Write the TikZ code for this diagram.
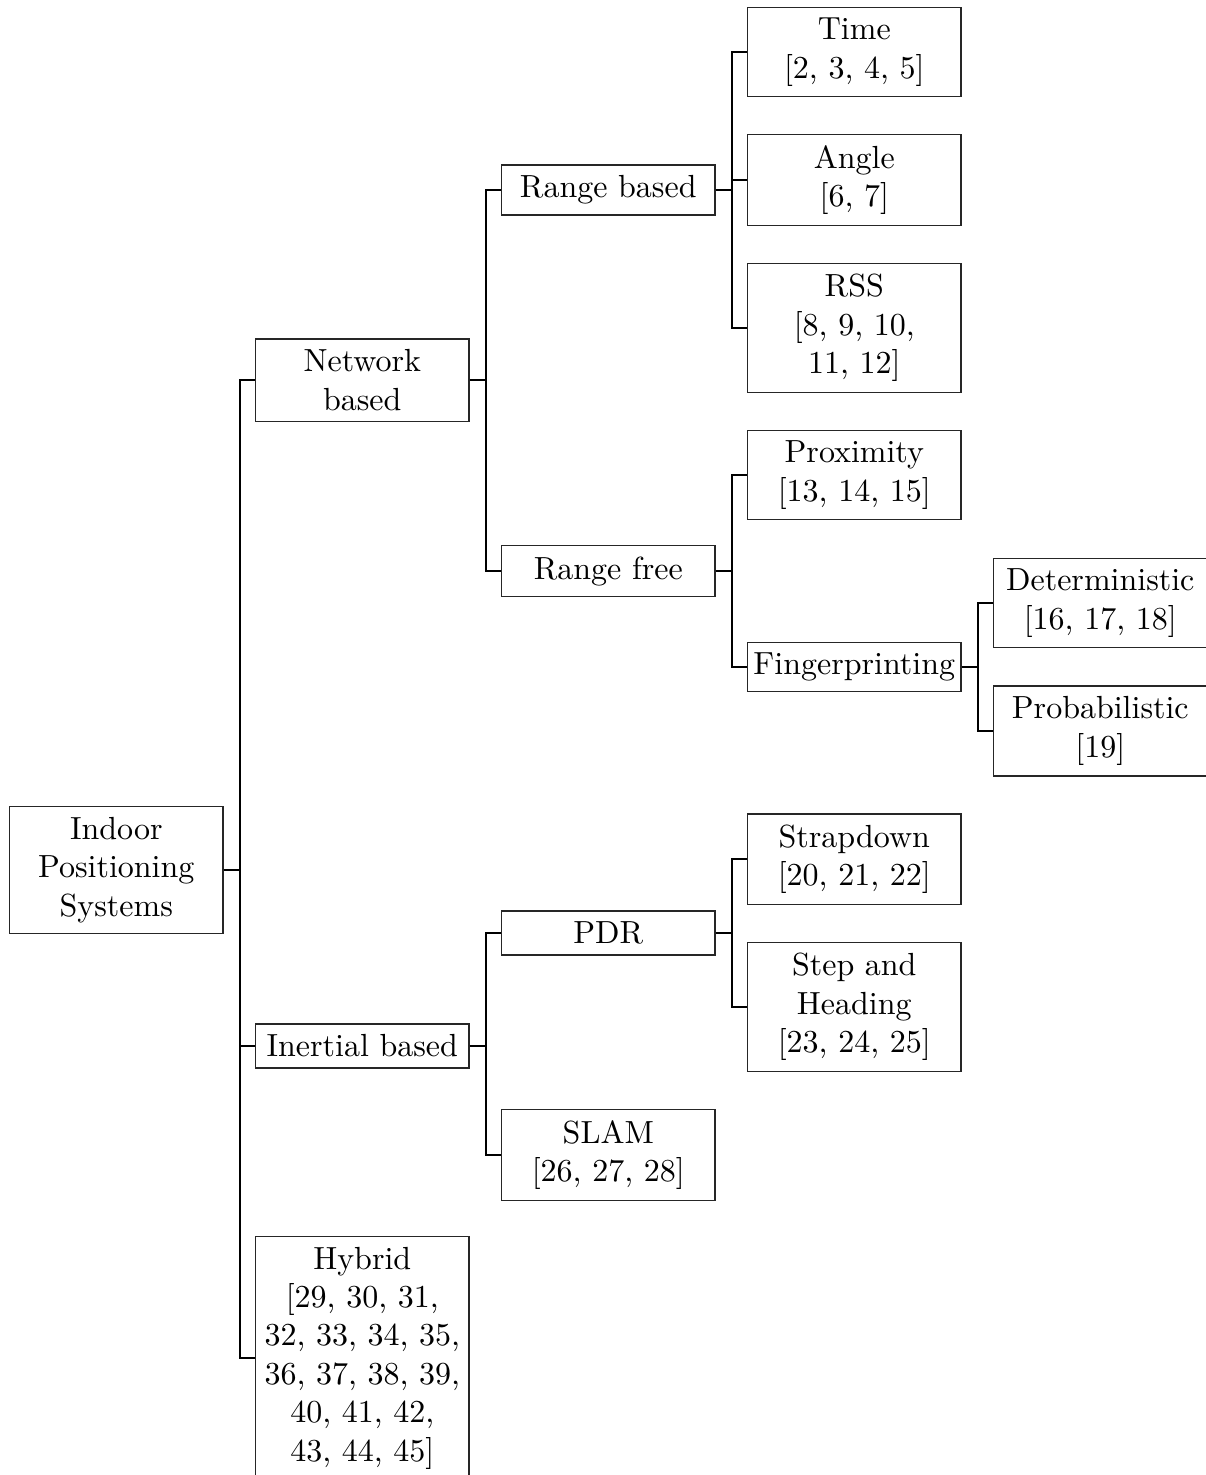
\documentclass[tikz,border=0pt]{standalone}
\begin{document}
\begin{tikzpicture}[
  x=0.3125pt, y=-0.3125pt,
  box/.style={draw=black!85, line width=0.4pt, text width=63pt, align=center,
              anchor=west, inner xsep=1.83pt, inner ysep=0.3333em},
  conn/.style={draw=black, line width=0.8pt}
]
\useasboundingbox (0,0) rectangle (1205,1475);

% level 0
\node[box] (ips) at (9,870) {Indoor\\Positioning\\Systems};

% level 1
\node[box] (net) at (255,380) {Network\\based};
\node[box] (ine) at (255,1046) {Inertial based};
\node[box] (hyb) at (255,1358) {Hybrid\\{[}29, 30, 31,\\32, 33, 34, 35,\\36, 37, 38, 39,\\40, 41, 42,\\43, 44, 45]};

% level 2
\node[box] (rb) at (501,190) {Range based};
\node[box] (rf) at (501,571) {Range free};
\node[box] (pdr) at (501,933) {PDR};
\node[box] (slam) at (501,1155) {SLAM\\{[}26, 27, 28]};

% level 3
\node[box] (time) at (747,52) {Time\\{[}2, 3, 4, 5]};
\node[box] (angle) at (747,180) {Angle\\{[}6, 7]};
\node[box] (rss) at (747,328) {RSS\\{[}8, 9, 10,\\11, 12]};
\node[box] (prox) at (747,475) {Proximity\\{[}13, 14, 15]};
\node[box] (fing) at (747,667) {Fingerprinting};
\node[box] (strap) at (747,859) {Strapdown\\{[}20, 21, 22]};
\node[box] (step) at (747,1007) {Step and\\Heading\\{[}23, 24, 25]};

% level 4
\node[box] (det) at (993,603) {Deterministic\\{[}16, 17, 18]};
\node[box] (prob) at (993,731) {Probabilistic\\{[}19]};

% forked connectors
\foreach \p/\c in {ips/net, ips/ine, ips/hyb,
                   net/rb, net/rf, ine/pdr, ine/slam,
                   rb/time, rb/angle, rb/rss, rf/prox, rf/fing,
                   pdr/strap, pdr/step, fing/det, fing/prob}
  \draw[conn] (\p.east) -- ++(16.5,0) |- (\c.west);
\end{tikzpicture}
\end{document}
